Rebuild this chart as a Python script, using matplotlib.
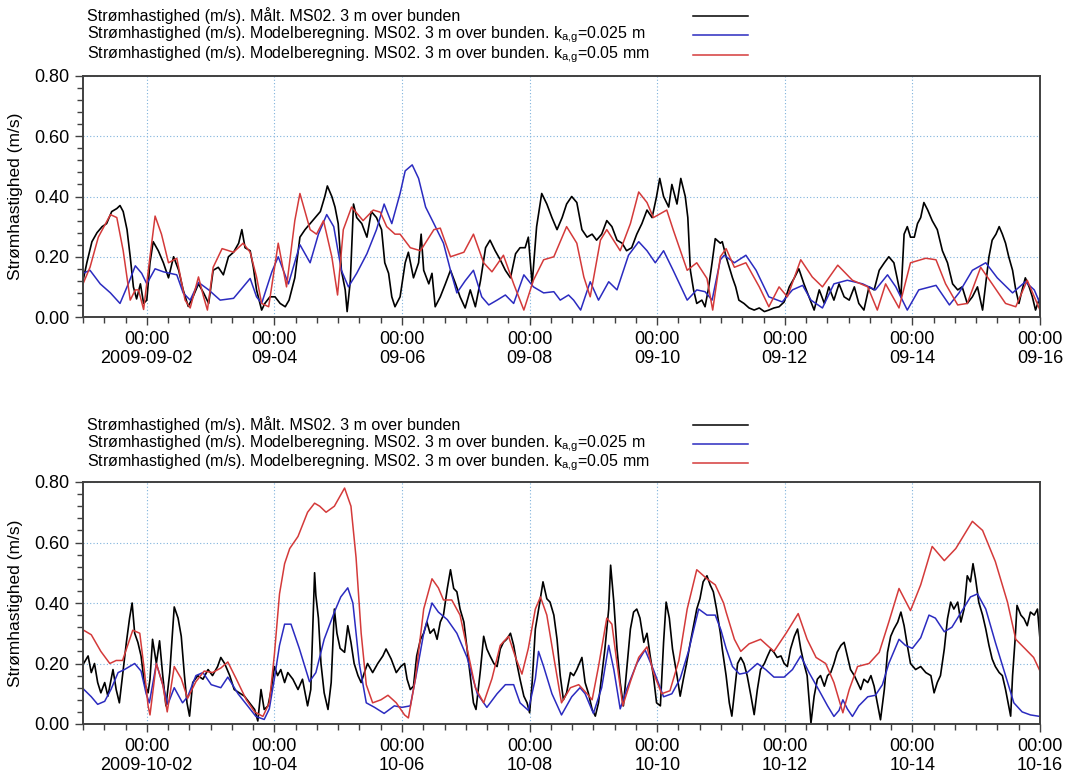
import numpy as np
import pandas as pd
import matplotlib
matplotlib.use('Agg')
import matplotlib.pyplot as plt
from matplotlib.lines import Line2D
from matplotlib.ticker import MultipleLocator

plt.rcParams['font.family'] = ['Liberation Sans', 'DejaVu Sans']
plt.rcParams['mathtext.default'] = 'regular'

# [days since panel start, current speed m/s]
sep_measured = np.array([
    [0.00, 0.12], [0.06, 0.18], [0.14, 0.25], [0.22, 0.28], [0.30, 0.30], [0.37, 0.31], [0.45, 0.35],
    [0.53, 0.36], [0.58, 0.37], [0.63, 0.35], [0.69, 0.29], [0.74, 0.20], [0.79, 0.10], [0.84, 0.06],
    [0.90, 0.11], [0.95, 0.045], [1.00, 0.056], [1.05, 0.18], [1.10, 0.25], [1.18, 0.22], [1.26, 0.18],
    [1.34, 0.13], [1.42, 0.20], [1.50, 0.155], [1.57, 0.09], [1.65, 0.035], [1.73, 0.07], [1.81, 0.11],
    [1.89, 0.08], [1.97, 0.045], [2.04, 0.155], [2.12, 0.165], [2.20, 0.14], [2.28, 0.20], [2.36, 0.215],
    [2.44, 0.245], [2.49, 0.29], [2.54, 0.23], [2.62, 0.22], [2.67, 0.165], [2.72, 0.09], [2.80, 0.023],
    [2.85, 0.045], [2.93, 0.067], [3.01, 0.067], [3.09, 0.045], [3.17, 0.034], [3.23, 0.056], [3.32, 0.13],
    [3.40, 0.265], [3.48, 0.29], [3.56, 0.31], [3.64, 0.33], [3.72, 0.35], [3.79, 0.40], [3.83, 0.435],
    [3.90, 0.40], [3.95, 0.365], [4.00, 0.31], [4.05, 0.155], [4.11, 0.09], [4.14, 0.018], [4.19, 0.12],
    [4.24, 0.375], [4.29, 0.33], [4.37, 0.31], [4.45, 0.265], [4.52, 0.35], [4.60, 0.33], [4.68, 0.29],
    [4.73, 0.18], [4.79, 0.145], [4.84, 0.067], [4.89, 0.034], [4.97, 0.067],
    [5.05, 0.18], [5.10, 0.215], [5.18, 0.13], [5.26, 0.18], [5.30, 0.275], [5.34, 0.155], [5.42, 0.11],
    [5.47, 0.145], [5.52, 0.034], [5.60, 0.067], [5.68, 0.11], [5.76, 0.155], [5.84, 0.11], [5.91, 0.067],
    [5.99, 0.03], [6.07, 0.09], [6.15, 0.034], [6.23, 0.12], [6.31, 0.23], [6.38, 0.255], [6.46, 0.22],
    [6.54, 0.19], [6.62, 0.155], [6.70, 0.13], [6.78, 0.21], [6.85, 0.23], [6.93, 0.23], [6.98, 0.265],
    [7.04, 0.11], [7.11, 0.30], [7.19, 0.41], [7.27, 0.375], [7.35, 0.33], [7.43, 0.29], [7.51, 0.33],
    [7.58, 0.375], [7.66, 0.40], [7.74, 0.38], [7.82, 0.29], [7.90, 0.265], [7.98, 0.275], [8.05, 0.255],
    [8.13, 0.275], [8.21, 0.32], [8.29, 0.30], [8.37, 0.255], [8.45, 0.245], [8.52, 0.22], [8.60, 0.23],
    [8.68, 0.275], [8.76, 0.31], [8.84, 0.355], [8.92, 0.33], [8.99, 0.40], [9.04, 0.46], [9.10, 0.40],
    [9.18, 0.365], [9.23, 0.44], [9.31, 0.375], [9.37, 0.46], [9.44, 0.40], [9.48, 0.33], [9.52, 0.155],
    [9.57, 0.09], [9.62, 0.045], [9.70, 0.056], [9.75, 0.034], [9.80, 0.09], [9.86, 0.18], [9.91, 0.26],
    [9.99, 0.245],
    [10.02, 0.25], [10.08, 0.20], [10.13, 0.165], [10.18, 0.13], [10.23, 0.10], [10.28, 0.056],
    [10.36, 0.045], [10.44, 0.03], [10.52, 0.023], [10.60, 0.03], [10.68, 0.018], [10.75, 0.023],
    [10.83, 0.03], [10.91, 0.034], [10.99, 0.05], [11.07, 0.10], [11.15, 0.13], [11.22, 0.16],
    [11.30, 0.11], [11.38, 0.067], [11.46, 0.023], [11.54, 0.09], [11.62, 0.045], [11.69, 0.10],
    [11.77, 0.056], [11.85, 0.11], [11.93, 0.067], [12.01, 0.056], [12.09, 0.10], [12.16, 0.045],
    [12.24, 0.023], [12.32, 0.10], [12.40, 0.09], [12.48, 0.155], [12.56, 0.18], [12.63, 0.20],
    [12.71, 0.18], [12.76, 0.13], [12.82, 0.067], [12.87, 0.275], [12.92, 0.30], [12.97, 0.265],
    [13.03, 0.265], [13.08, 0.31], [13.13, 0.33], [13.18, 0.38], [13.24, 0.355], [13.31, 0.32],
    [13.39, 0.29], [13.47, 0.22], [13.55, 0.18], [13.63, 0.11], [13.71, 0.09], [13.78, 0.10],
    [13.86, 0.045], [13.94, 0.067], [14.02, 0.10], [14.10, 0.023], [14.15, 0.11], [14.20, 0.20],
    [14.25, 0.255], [14.31, 0.275], [14.36, 0.30], [14.41, 0.275], [14.46, 0.245], [14.51, 0.20],
    [14.57, 0.155], [14.62, 0.09], [14.67, 0.045], [14.72, 0.09], [14.77, 0.13], [14.83, 0.10],
    [14.88, 0.067], [14.93, 0.023], [15.00, 0.067],
])

sep_model_025m = np.array([
    [0.00, 0.145], [0.11, 0.155], [0.27, 0.11], [0.43, 0.08], [0.58, 0.045], [0.71, 0.11], [0.82, 0.17],
    [0.92, 0.145], [1.00, 0.11], [1.13, 0.16], [1.26, 0.15], [1.47, 0.14], [1.57, 0.08], [1.68, 0.056],
    [1.81, 0.115], [1.97, 0.09], [2.15, 0.056], [2.36, 0.062], [2.51, 0.10], [2.62, 0.128], [2.72, 0.067],
    [2.80, 0.045], [2.96, 0.15], [3.06, 0.20], [3.22, 0.11], [3.40, 0.24], [3.56, 0.18], [3.69, 0.275],
    [3.82, 0.34], [3.93, 0.30], [4.05, 0.155], [4.16, 0.10], [4.29, 0.145], [4.45, 0.21], [4.60, 0.29],
    [4.72, 0.375], [4.84, 0.31], [4.97, 0.41], [5.05, 0.485], [5.16, 0.505], [5.26, 0.46], [5.37, 0.365],
    [5.50, 0.31], [5.65, 0.245], [5.76, 0.155], [5.86, 0.08], [5.99, 0.12], [6.12, 0.155], [6.25, 0.067],
    [6.36, 0.04], [6.49, 0.056], [6.62, 0.073], [6.75, 0.045], [6.91, 0.14], [7.06, 0.10], [7.22, 0.08],
    [7.38, 0.084], [7.48, 0.056], [7.61, 0.073], [7.69, 0.056], [7.80, 0.023], [7.95, 0.117], [8.08, 0.056],
    [8.24, 0.117], [8.37, 0.09], [8.55, 0.205], [8.71, 0.25], [8.84, 0.22], [8.97, 0.18], [9.10, 0.22],
    [9.25, 0.155], [9.47, 0.056], [9.62, 0.09], [9.75, 0.084], [9.86, 0.056], [9.99, 0.19], [10.05, 0.205],
    [10.21, 0.18], [10.39, 0.205], [10.55, 0.155], [10.75, 0.067], [10.96, 0.05], [11.12, 0.09],
    [11.28, 0.105], [11.41, 0.056], [11.59, 0.03], [11.77, 0.11], [11.98, 0.122], [12.22, 0.11],
    [12.42, 0.09], [12.61, 0.14], [12.74, 0.10], [12.92, 0.023], [13.10, 0.09], [13.37, 0.105],
    [13.58, 0.04], [13.73, 0.08], [13.94, 0.155], [14.15, 0.18], [14.33, 0.13], [14.57, 0.08],
    [14.77, 0.117], [14.91, 0.09], [15.00, 0.045],
])

sep_model_005mm = np.array([
    [0.00, 0.11], [0.11, 0.165], [0.24, 0.265], [0.43, 0.34], [0.53, 0.33], [0.63, 0.22], [0.74, 0.056],
    [0.82, 0.09], [0.87, 0.09], [0.95, 0.025], [1.05, 0.20], [1.13, 0.335], [1.23, 0.275], [1.34, 0.18],
    [1.47, 0.195], [1.60, 0.056], [1.68, 0.03], [1.81, 0.133], [1.89, 0.067], [1.95, 0.023], [2.04, 0.165],
    [2.18, 0.227], [2.36, 0.215], [2.51, 0.245], [2.62, 0.215], [2.72, 0.133], [2.80, 0.045], [2.91, 0.034],
    [3.06, 0.245], [3.19, 0.10], [3.32, 0.32], [3.40, 0.41], [3.56, 0.29], [3.66, 0.275], [3.77, 0.32],
    [3.90, 0.20], [3.99, 0.073], [4.08, 0.29], [4.21, 0.365], [4.39, 0.32], [4.55, 0.355], [4.66, 0.348],
    [4.76, 0.30], [4.89, 0.275], [4.97, 0.275], [5.13, 0.23], [5.29, 0.22], [5.50, 0.29], [5.60, 0.295],
    [5.76, 0.20], [5.97, 0.215], [6.12, 0.275], [6.28, 0.18], [6.41, 0.15], [6.59, 0.205], [6.75, 0.11],
    [6.91, 0.023], [7.06, 0.122], [7.22, 0.19], [7.38, 0.20], [7.58, 0.30], [7.74, 0.245], [7.85, 0.133],
    [7.95, 0.067], [8.11, 0.255], [8.21, 0.29], [8.42, 0.22], [8.58, 0.31], [8.71, 0.415], [8.84, 0.38],
    [8.94, 0.33], [9.15, 0.355], [9.25, 0.29], [9.47, 0.155], [9.62, 0.18], [9.78, 0.128], [9.87, 0.023],
    [9.99, 0.20], [10.08, 0.227], [10.21, 0.165], [10.39, 0.18], [10.60, 0.10], [10.75, 0.034],
    [10.91, 0.10], [11.04, 0.067], [11.25, 0.19], [11.43, 0.133], [11.59, 0.10], [11.83, 0.172],
    [12.06, 0.122], [12.30, 0.10], [12.45, 0.023], [12.58, 0.11], [12.79, 0.03], [12.97, 0.18],
    [13.21, 0.195], [13.37, 0.19], [13.52, 0.11], [13.71, 0.04], [13.86, 0.045], [14.07, 0.165],
    [14.25, 0.11], [14.46, 0.045], [14.62, 0.034], [14.80, 0.122], [15.00, 0.023],
])

oct_measured = np.array([
    [0.01, 0.20], [0.08, 0.225], [0.13, 0.17], [0.18, 0.20], [0.23, 0.137], [0.28, 0.103], [0.34, 0.137],
    [0.39, 0.092], [0.47, 0.18], [0.52, 0.114], [0.57, 0.07], [0.62, 0.16], [0.68, 0.27], [0.73, 0.35],
    [0.77, 0.40], [0.81, 0.30], [0.86, 0.27], [0.91, 0.225], [0.96, 0.137], [1.02, 0.103], [1.05, 0.148],
    [1.09, 0.28], [1.15, 0.20], [1.20, 0.275], [1.25, 0.16], [1.30, 0.06], [1.36, 0.17], [1.41, 0.325],
    [1.43, 0.387], [1.49, 0.35], [1.54, 0.29], [1.59, 0.16], [1.63, 0.07], [1.67, 0.026], [1.72, 0.137],
    [1.80, 0.16], [1.88, 0.148], [1.96, 0.18], [2.03, 0.16], [2.11, 0.19], [2.16, 0.22], [2.22, 0.20],
    [2.30, 0.16], [2.37, 0.114], [2.45, 0.103], [2.53, 0.092], [2.61, 0.07], [2.69, 0.048], [2.74, 0.01],
    [2.79, 0.114], [2.84, 0.048], [2.90, 0.06], [2.95, 0.114], [3.00, 0.19], [3.05, 0.16], [3.10, 0.18],
    [3.16, 0.137], [3.21, 0.17], [3.29, 0.148], [3.37, 0.114], [3.44, 0.148], [3.52, 0.06], [3.57, 0.114],
    [3.63, 0.50], [3.65, 0.425], [3.69, 0.35], [3.73, 0.20], [3.78, 0.103], [3.84, 0.048], [3.89, 0.137],
    [3.94, 0.38], [3.98, 0.30], [4.03, 0.25], [4.10, 0.237], [4.15, 0.325], [4.20, 0.27], [4.25, 0.20],
    [4.31, 0.16], [4.36, 0.137], [4.41, 0.17], [4.46, 0.20], [4.54, 0.17], [4.62, 0.20], [4.70, 0.225],
    [4.75, 0.248], [4.83, 0.215], [4.91, 0.17], [4.98, 0.19],
    [5.04, 0.20], [5.08, 0.148], [5.13, 0.114], [5.18, 0.125], [5.23, 0.225], [5.29, 0.28], [5.34, 0.30],
    [5.39, 0.337], [5.44, 0.30], [5.50, 0.314], [5.55, 0.28], [5.60, 0.337], [5.65, 0.36], [5.71, 0.448],
    [5.76, 0.51], [5.81, 0.448], [5.86, 0.437], [5.91, 0.38], [5.97, 0.337], [6.02, 0.248], [6.07, 0.16],
    [6.12, 0.07], [6.16, 0.048], [6.23, 0.18], [6.28, 0.29], [6.33, 0.248], [6.38, 0.225], [6.44, 0.20],
    [6.49, 0.19], [6.54, 0.248], [6.59, 0.27], [6.64, 0.28], [6.70, 0.30], [6.75, 0.26], [6.80, 0.20],
    [6.85, 0.148], [6.91, 0.092], [6.96, 0.07], [7.00, 0.037], [7.04, 0.137], [7.09, 0.314], [7.16, 0.403],
    [7.21, 0.47], [7.27, 0.414], [7.32, 0.403], [7.38, 0.36], [7.43, 0.28], [7.48, 0.16], [7.53, 0.08],
    [7.58, 0.103], [7.64, 0.17], [7.69, 0.16], [7.74, 0.18], [7.82, 0.22], [7.87, 0.137], [7.92, 0.103],
    [7.98, 0.048], [8.03, 0.026], [8.08, 0.07], [8.13, 0.16], [8.18, 0.248], [8.24, 0.38], [8.27, 0.525],
    [8.32, 0.403], [8.37, 0.248], [8.42, 0.137], [8.47, 0.06], [8.53, 0.20], [8.58, 0.314], [8.63, 0.37],
    [8.68, 0.38], [8.73, 0.35], [8.79, 0.27], [8.84, 0.30], [8.89, 0.225], [8.94, 0.16], [8.99, 0.07],
    [9.05, 0.06], [9.10, 0.27], [9.14, 0.403], [9.19, 0.35], [9.24, 0.248], [9.31, 0.16], [9.36, 0.092],
    [9.41, 0.148], [9.46, 0.20], [9.52, 0.27], [9.57, 0.325], [9.62, 0.38], [9.67, 0.414], [9.72, 0.47],
    [9.78, 0.49], [9.83, 0.46], [9.88, 0.437], [9.93, 0.38], [9.99, 0.30],
    [10.02, 0.248], [10.08, 0.16], [10.13, 0.07], [10.17, 0.026], [10.21, 0.103], [10.26, 0.20],
    [10.31, 0.22], [10.36, 0.20], [10.41, 0.16], [10.47, 0.092], [10.52, 0.031], [10.57, 0.114],
    [10.62, 0.18], [10.68, 0.20], [10.73, 0.225], [10.78, 0.248], [10.83, 0.237], [10.88, 0.22],
    [10.94, 0.225], [10.99, 0.20], [11.04, 0.19], [11.09, 0.248], [11.15, 0.29], [11.20, 0.314],
    [11.25, 0.248], [11.30, 0.20], [11.35, 0.16], [11.41, 0.003], [11.46, 0.092], [11.51, 0.148],
    [11.56, 0.16], [11.62, 0.125], [11.67, 0.16], [11.72, 0.17], [11.77, 0.20], [11.82, 0.237],
    [11.88, 0.26], [11.93, 0.27], [11.98, 0.225], [12.03, 0.18], [12.09, 0.16], [12.14, 0.137],
    [12.19, 0.114], [12.24, 0.148], [12.30, 0.137], [12.35, 0.16], [12.40, 0.125], [12.45, 0.07],
    [12.50, 0.014], [12.56, 0.114], [12.61, 0.237], [12.66, 0.29], [12.71, 0.314], [12.77, 0.337],
    [12.82, 0.37], [12.87, 0.325], [12.92, 0.26], [12.97, 0.20], [13.05, 0.18], [13.13, 0.19],
    [13.21, 0.17], [13.29, 0.16], [13.34, 0.103], [13.39, 0.137], [13.44, 0.16], [13.50, 0.248],
    [13.55, 0.348], [13.60, 0.403], [13.65, 0.38], [13.71, 0.403], [13.76, 0.337], [13.81, 0.38],
    [13.86, 0.49], [13.91, 0.47], [13.95, 0.53], [13.99, 0.48], [14.04, 0.403], [14.10, 0.36],
    [14.15, 0.314], [14.20, 0.26], [14.25, 0.215], [14.30, 0.19], [14.36, 0.17], [14.41, 0.16],
    [14.46, 0.114], [14.51, 0.06], [14.54, 0.026], [14.57, 0.16], [14.61, 0.28], [14.64, 0.392],
    [14.70, 0.36], [14.75, 0.348], [14.80, 0.325], [14.85, 0.37], [14.91, 0.36], [14.96, 0.38],
    [15.00, 0.28],
])

oct_model_025m = np.array([
    [0.01, 0.115], [0.13, 0.09], [0.23, 0.065], [0.34, 0.075], [0.44, 0.115], [0.55, 0.17], [0.65, 0.18],
    [0.81, 0.20], [0.91, 0.175], [0.99, 0.10], [1.04, 0.07], [1.15, 0.20], [1.25, 0.13], [1.33, 0.065],
    [1.43, 0.12], [1.56, 0.07], [1.64, 0.09], [1.77, 0.16], [1.88, 0.17], [2.01, 0.13], [2.16, 0.12],
    [2.27, 0.155], [2.43, 0.10], [2.58, 0.06], [2.71, 0.025], [2.84, 0.015], [2.92, 0.05], [3.00, 0.15],
    [3.08, 0.26], [3.16, 0.33], [3.26, 0.33], [3.39, 0.25], [3.55, 0.14], [3.65, 0.17], [3.78, 0.28],
    [3.94, 0.37], [4.04, 0.42], [4.15, 0.45], [4.23, 0.40], [4.33, 0.20], [4.44, 0.07], [4.57, 0.055],
    [4.72, 0.035], [4.88, 0.06], [5.00, 0.055], [5.13, 0.06], [5.23, 0.17], [5.34, 0.30], [5.47, 0.40],
    [5.57, 0.37], [5.71, 0.345], [5.86, 0.30], [6.02, 0.22], [6.18, 0.10], [6.33, 0.055], [6.49, 0.10],
    [6.62, 0.13], [6.75, 0.13], [6.85, 0.07], [6.98, 0.045], [7.09, 0.15], [7.14, 0.24], [7.22, 0.19],
    [7.35, 0.10], [7.50, 0.03], [7.66, 0.09], [7.79, 0.12], [7.87, 0.10], [8.00, 0.035], [8.13, 0.12],
    [8.24, 0.26], [8.32, 0.18], [8.42, 0.05], [8.53, 0.12], [8.68, 0.20], [8.81, 0.245], [8.94, 0.18],
    [9.10, 0.09], [9.23, 0.10], [9.36, 0.15], [9.49, 0.24], [9.65, 0.38], [9.78, 0.36], [9.91, 0.36],
    [10.00, 0.31], [10.08, 0.25], [10.18, 0.19], [10.29, 0.165], [10.41, 0.17], [10.57, 0.20],
    [10.70, 0.18], [10.83, 0.155], [10.99, 0.155], [11.12, 0.18], [11.25, 0.225], [11.38, 0.17],
    [11.54, 0.11], [11.67, 0.06], [11.77, 0.025], [11.85, 0.045], [11.91, 0.08], [11.98, 0.05],
    [12.06, 0.025], [12.16, 0.06], [12.30, 0.09], [12.42, 0.095], [12.53, 0.13], [12.63, 0.20],
    [12.79, 0.28], [12.89, 0.26], [13.00, 0.25], [13.13, 0.285], [13.26, 0.36], [13.36, 0.35],
    [13.50, 0.305], [13.62, 0.32], [13.78, 0.375], [13.91, 0.42], [14.02, 0.43], [14.15, 0.38],
    [14.30, 0.27], [14.46, 0.16], [14.59, 0.07], [14.72, 0.04], [14.85, 0.03], [15.00, 0.025],
])

oct_model_005mm = np.array([
    [0.01, 0.31], [0.13, 0.295], [0.28, 0.24], [0.42, 0.20], [0.52, 0.21], [0.62, 0.21], [0.78, 0.31],
    [0.89, 0.30], [0.96, 0.18], [1.02, 0.06], [1.05, 0.03], [1.15, 0.20], [1.25, 0.13], [1.32, 0.04],
    [1.43, 0.19], [1.54, 0.15], [1.64, 0.085], [1.77, 0.14], [1.90, 0.175], [2.03, 0.17], [2.16, 0.185],
    [2.27, 0.205], [2.40, 0.15], [2.56, 0.08], [2.69, 0.04], [2.82, 0.025], [2.92, 0.07], [3.00, 0.23],
    [3.08, 0.43], [3.16, 0.53], [3.24, 0.58], [3.37, 0.62], [3.52, 0.70], [3.63, 0.73], [3.71, 0.72],
    [3.81, 0.70], [3.94, 0.72], [4.10, 0.78], [4.20, 0.72], [4.28, 0.55], [4.36, 0.30], [4.44, 0.13],
    [4.54, 0.07], [4.67, 0.08], [4.78, 0.095], [4.91, 0.07], [5.04, 0.03], [5.10, 0.02], [5.21, 0.15],
    [5.34, 0.38], [5.47, 0.48], [5.57, 0.45], [5.65, 0.41], [5.78, 0.41], [5.91, 0.36], [6.04, 0.23],
    [6.15, 0.12], [6.28, 0.07], [6.41, 0.15], [6.54, 0.26], [6.67, 0.29], [6.78, 0.22], [6.88, 0.165],
    [6.98, 0.25], [7.09, 0.38], [7.17, 0.42], [7.27, 0.36], [7.38, 0.22], [7.50, 0.07], [7.64, 0.12],
    [7.77, 0.13], [7.90, 0.10], [7.98, 0.08], [8.08, 0.19], [8.21, 0.35], [8.29, 0.33], [8.37, 0.20],
    [8.46, 0.06], [8.58, 0.14], [8.71, 0.22], [8.84, 0.255], [8.94, 0.17], [9.07, 0.10], [9.20, 0.11],
    [9.34, 0.21], [9.47, 0.38], [9.62, 0.51], [9.78, 0.48], [9.91, 0.46], [10.04, 0.40], [10.08, 0.37],
    [10.21, 0.28], [10.31, 0.24], [10.44, 0.265], [10.62, 0.28], [10.83, 0.24], [11.02, 0.30],
    [11.21, 0.365], [11.35, 0.28], [11.49, 0.22], [11.64, 0.20], [11.77, 0.137], [11.91, 0.037],
    [12.01, 0.114], [12.14, 0.19], [12.32, 0.20], [12.48, 0.237], [12.63, 0.337], [12.79, 0.448],
    [12.97, 0.375], [13.13, 0.46], [13.31, 0.587], [13.50, 0.54], [13.68, 0.58], [13.94, 0.67],
    [14.10, 0.64], [14.30, 0.537], [14.49, 0.403], [14.62, 0.28], [14.77, 0.248], [14.90, 0.22],
    [15.00, 0.175],
])

sep_start = '2009-09-01'
oct_start = '2009-10-01'
tick_days = [1, 3, 5, 7, 9, 11, 13, 15]
sep_tick_labels = ['00:00\n2009-09-02', '00:00\n09-04', '00:00\n09-06', '00:00\n09-08',
                   '00:00\n09-10', '00:00\n09-12', '00:00\n09-14', '00:00\n09-16']
oct_tick_labels = ['00:00\n2009-10-02', '00:00\n10-04', '00:00\n10-06', '00:00\n10-08',
                   '00:00\n10-10', '00:00\n10-12', '00:00\n10-14', '00:00\n10-16']

legend_labels = [
    'Strømhastighed (m/s). Målt. MS02. 3 m over bunden',
    'Strømhastighed (m/s). Modelberegning. MS02. 3 m over bunden. k$_{a{,}g}$=0.025 m',
    'Strømhastighed (m/s). Modelberegning. MS02. 3 m over bunden. k$_{a{,}g}$=0.05 mm',
]
colors = ['#000000', '#2b2bc0', '#d43a3a']

W, H = 1066, 778
fig = plt.figure(figsize=(W / 100, H / 100), dpi=100)


def to_time(start, days):
    return pd.Timestamp(start) + pd.to_timedelta(days, unit='D')


def panel(rect, start, series, tick_labels):
    ax = fig.add_axes(rect)
    for arr, c, lw in zip(series, colors, [1.2, 1.1, 1.1]):
        ax.plot(to_time(start, arr[:, 0]), arr[:, 1], color=c, lw=lw)
    ax.set_xlim(to_time(start, 0), to_time(start, 15))
    ax.set_ylim(0, 0.8)
    ax.set_xticks(to_time(start, np.array(tick_days, dtype=float)))
    ax.set_xticklabels(tick_labels)
    ax.set_xticks(to_time(start, np.arange(0, 15.01, 1 / 3)), minor=True)
    ax.set_yticks([0, 0.2, 0.4, 0.6, 0.8])
    ax.set_yticklabels(['0.00', '0.20', '0.40', '0.60', '0.80'])
    ax.yaxis.set_minor_locator(MultipleLocator(0.04))
    ax.grid(True, which='major', color='#7fb2dc', lw=0.8, ls=(0, (1, 2)))
    ax.tick_params(which='major', length=6, width=1, color='#404040', labelsize=13, pad=4)
    ax.tick_params(which='minor', length=4, width=1, color='#404040')
    for s in ax.spines.values():
        s.set_color('#404040')
        s.set_linewidth(1.4)
    ax.set_ylabel('Strømhastighed (m/s)', fontsize=12.5)
    ax.yaxis.set_label_coords(-0.063, 0.5)
    return ax


def legend_block(ys):
    for lab, c, y in zip(legend_labels, colors, ys):
        fig.text(87 / W, 1 - y / H, lab, fontsize=11.5, va='center', ha='left')
        fig.add_artist(Line2D([693 / W, 748 / W], [1 - y / H, 1 - y / H], color=c, lw=1.1))


panel([83 / W, 1 - 317 / H, 957 / W, 241 / H], sep_start,
      [sep_measured, sep_model_025m, sep_model_005mm], sep_tick_labels)
panel([83 / W, 1 - 724 / H, 957 / W, 242 / H], oct_start,
      [oct_measured, oct_model_025m, oct_model_005mm], oct_tick_labels)

legend_block([16, 35, 55])
legend_block([425, 444, 463])

fig.savefig('out.png', dpi=100)
